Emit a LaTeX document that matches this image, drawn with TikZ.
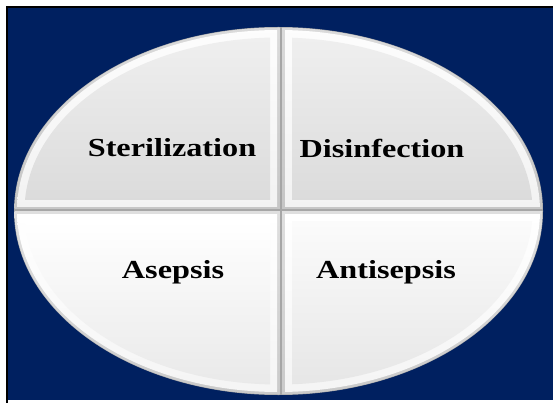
\documentclass[tikz,border=0pt]{standalone}
\usepackage{fontspec}
\setmainfont{Liberation Serif}
\definecolor{navy}{HTML}{002060}

\begin{document}
\begin{tikzpicture}[x=1pt, y=-1pt,
	lbl/.style={font=\bfseries\fontsize{26}{30}\selectfont, inner sep=0pt, transform shape, xscale=1.24}]
	\useasboundingbox (0,0) rectangle (553,403);
	% background panel
	\fill[navy] (8,8) rectangle (553,400);
	\draw[black, line width=2pt] (7,403) -- (7,7) -- (553,7);
	% gap lines between the quarters
	\fill[gray!70] (278.5,211) ellipse [x radius=264.5pt, y radius=184pt];
	% quarters: sign x / sign y / face top / face bottom
	\foreach \sx/\sy/\ft/\fb in {-1/-1/gray!8/gray!28, 1/-1/gray!8/gray!28, -1/1/white/gray!22, 1/1/gray!3/gray!24} {
		\begin{scope}
			\clip (278.5,211) ellipse [x radius=264pt, y radius=183.5pt];
			\clip ({281+\sx*1.2},{210+\sy*1.2}) rectangle ({281+\sx*300},{210+\sy*220});
			\shade[top color=gray!25, bottom color=gray!45] ({281+\sx*1.2},{210+\sy*1.2}) rectangle ({281+\sx*300},{210+\sy*220});
		\end{scope}
		\begin{scope}
			\clip (278.5,211) ellipse [x radius=261.5pt, y radius=181pt];
			\clip ({281+\sx*4},{210+\sy*4}) rectangle ({281+\sx*300},{210+\sy*220});
			\shade[top color=white, bottom color=gray!10] ({281+\sx*4},{210+\sy*4}) rectangle ({281+\sx*300},{210+\sy*220});
		\end{scope}
		\begin{scope}
			\clip (278.5,211) ellipse [x radius=254pt, y radius=173.5pt];
			\clip ({281+\sx*11},{210+\sy*11}) rectangle ({281+\sx*300},{210+\sy*220});
			\shade[top color=\ft, bottom color=\fb] ({281+\sx*11},{210+\sy*11}) rectangle ({281+\sx*300},{210+\sy*220});
		\end{scope}
	}
	% labels
	\node[lbl] (ster) at (172,148) {Sterilization};
	\node[lbl] (disinf) at (382,148) {Disinfection};
	\node[lbl] (asep) at (173,272) {Asepsis};
	\node[lbl] (antisep) at (386,272) {Antisepsis};
\end{tikzpicture}
\end{document}
